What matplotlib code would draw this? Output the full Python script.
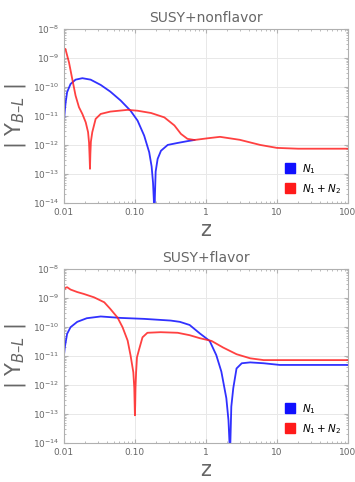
import numpy as np
import matplotlib.pyplot as plt
from matplotlib.lines import Line2D

z_n1_top = [0.01, 0.0103, 0.0106, 0.0111, 0.0124, 0.0146, 0.0182, 0.0238, 0.033, 0.045, 0.063, 0.087, 0.109,
            0.135, 0.159, 0.172, 0.18, 0.185, 0.188, 0.191, 0.196, 0.209, 0.233, 0.29, 0.40, 0.55, 0.69]
y_n1_top = [6e-12, 1.5e-11, 3e-11, 6.6e-11, 1.26e-10, 1.78e-10, 2.0e-10, 1.78e-10, 1.17e-10, 6.9e-11, 3.4e-11, 1.5e-11, 6.9e-12,
            2.1e-12, 5.6e-13, 1.8e-13, 5e-14, 1.2e-14, 1e-16, 1.5e-14, 1.2e-13, 3.3e-13, 6.3e-13, 1.0e-12, 1.17e-12, 1.35e-12, 1.48e-12]
z_n12_top = [0.01, 0.0105, 0.0118, 0.0131, 0.0146, 0.0163, 0.0182, 0.0203, 0.0219, 0.0226, 0.023, 0.0233, 0.0236,
             0.024, 0.0251, 0.028, 0.033, 0.045, 0.079, 0.109, 0.169, 0.26, 0.36, 0.445, 0.55, 0.69, 1.07,
             1.58, 3.0, 5.8, 10, 20, 100]
y_n12_top = [2.0e-9, 2.05e-9, 7e-10, 1.9e-10, 5e-11, 2.0e-11, 1.17e-11, 6e-12, 2.75e-12, 1.2e-12, 4e-13, 1.5e-13, 5e-13,
             1.3e-12, 2.75e-12, 7.9e-12, 1.17e-11, 1.41e-11, 1.62e-11, 1.51e-11, 1.26e-11, 8.9e-12, 4.7e-12, 2.4e-12, 1.62e-12, 1.48e-12, 1.7e-12,
             1.9e-12, 1.5e-12, 1.0e-12, 7.9e-13, 7.4e-13, 7.4e-13]

# bottom panel: SUSY+flavor
z_n1_bot = [0.01, 0.0103, 0.0106, 0.0111, 0.0124, 0.0154, 0.021, 0.033, 0.063, 0.135, 0.32, 0.43, 0.59,
            0.82, 1.13, 1.40, 1.65, 1.94, 2.08, 2.15, 2.18, 2.21, 2.28, 2.43, 2.7, 3.2, 4.2, 6.5, 11, 30, 100]
y_n1_bot = [1e-11, 2e-11, 3e-11, 5.8e-11, 9.8e-11, 1.5e-10, 2.0e-10, 2.3e-10, 2.05e-10, 1.9e-10, 1.66e-10, 1.5e-10, 1.17e-10,
            6e-11, 3.3e-11, 1.07e-11, 2.9e-12, 3.5e-13, 6e-14, 1e-14, 1e-16, 1e-14, 1.8e-13, 7.8e-13, 3.7e-12, 5.6e-12, 6e-12, 5.6e-12, 4.9e-12, 4.9e-12, 4.9e-12]
z_n12_bot = [0.01, 0.0104, 0.0111, 0.0124, 0.0154, 0.019, 0.0266, 0.037, 0.045, 0.057, 0.067, 0.079, 0.087,
             0.095, 0.098, 0.1, 0.101, 0.102, 0.104, 0.107, 0.115, 0.128, 0.15, 0.23, 0.4, 0.59, 0.82, 1.2, 1.75,
             2.7, 4.2, 6.5, 11, 30, 100]
y_n12_bot = [1.8e-9, 2.2e-9, 2.35e-9, 1.95e-9, 1.6e-9, 1.38e-9, 1.05e-9, 7.1e-10, 4.2e-10, 2.1e-10, 9.8e-11, 3.4e-11, 1.02e-11,
             2.75e-12, 8e-13, 9e-14, 2e-13, 8e-13, 2.75e-12, 9e-12, 1.74e-11, 4.4e-11, 6.3e-11, 6.6e-11, 6.3e-11, 5.2e-11, 4.1e-11, 3.3e-11, 1.95e-11,
             1.15e-11, 8.3e-12, 7.2e-12, 7.2e-12, 7.2e-12, 7.2e-12]

titles = ['SUSY+nonflavor', 'SUSY+flavor']
xticks = [0.01, 0.1, 1, 10, 100]
xticklabels = ['0.01', '0.10', '1', '10', '100']
yticks = [1e-14, 1e-13, 1e-12, 1e-11, 1e-10, 1e-9, 1e-8]
yticklabels = ['$10^{-14}$', '$10^{-13}$', '$10^{-12}$', '$10^{-11}$', '$10^{-10}$', '$10^{-9}$', '$10^{-8}$']

gray = '#666666'
blue = '#1a1aff'
red = '#ff2020'
fig = plt.figure(figsize=(3.55, 4.82), dpi=100)
axes = [fig.add_axes([0.180, 0.579, 0.800, 0.361]),
        fig.add_axes([0.180, 0.081, 0.800, 0.361])]
data = [(z_n1_top, y_n1_top, z_n12_top, y_n12_top),
        (z_n1_bot, y_n1_bot, z_n12_bot, y_n12_bot)]

for ax, title, (z1, y1, z2, y2) in zip(axes, titles, data):
    ax.plot(z1, y1, color=blue, lw=1.3, alpha=0.9)
    ax.plot(z2, y2, color=red, lw=1.3, alpha=0.85)
    ax.set_xscale('log')
    ax.set_yscale('log')
    ax.set_xlim(0.01, 100)
    ax.set_ylim(1e-14, 1e-8)
    ax.set_xticks(xticks)
    ax.set_xticklabels(xticklabels)
    ax.set_yticks(yticks)
    ax.set_yticklabels(yticklabels)
    ax.grid(True, which='major', color='#e8e8e8', lw=0.7)
    ax.tick_params(which='both', direction='in', colors='#b0b0b0', labelcolor=gray, labelsize=6.5,
                   top=True, right=True)
    ax.tick_params(which='major', length=3)
    ax.tick_params(which='minor', length=1.5)
    for s in ax.spines.values():
        s.set_color('#b0b0b0')
    ax.set_title(title, color=gray, fontsize=10, pad=5)
    ax.set_xlabel('z', color=gray, fontsize=15, labelpad=2)
    ax.set_ylabel('| Y$_{B\u2013L}$ |', color=gray, fontsize=15, labelpad=3)
    handles = [Line2D([], [], marker='s', ls='', color='#1010ff', markersize=7),
               Line2D([], [], marker='s', ls='', color='#ff1a1a', markersize=7)]
    ax.legend(handles, ['$N_1$', '$N_1 + N_2$'], loc='lower right', frameon=False, fontsize=7.5,
              handletextpad=0.1, borderaxespad=0.3, labelspacing=0.6)

fig.savefig('out.png', dpi=100)
